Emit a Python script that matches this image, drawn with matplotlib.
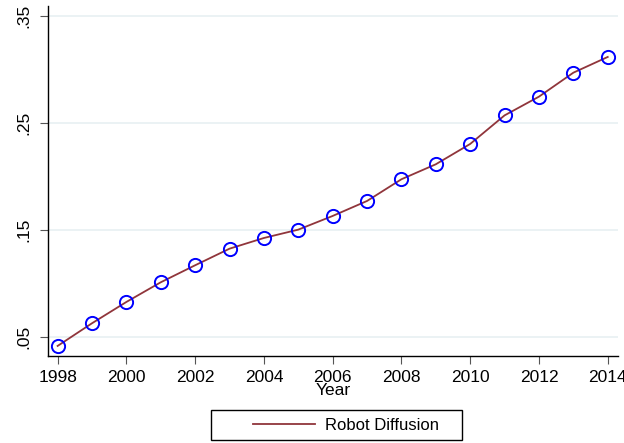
import numpy as np
import matplotlib
matplotlib.use("Agg")
import matplotlib.pyplot as plt
from matplotlib.lines import Line2D
from matplotlib.patches import Rectangle

plt.rcParams['font.family'] = ['Liberation Sans', 'DejaVu Sans']

years = [1998, 1999, 2000, 2001, 2002, 2003, 2004, 2005, 2006,
         2007, 2008, 2009, 2010, 2011, 2012, 2013, 2014]
diffusion = [0.0416, 0.0628, 0.0827, 0.1011, 0.1170, 0.1325, 0.1425, 0.1503, 0.1631,
             0.1771, 0.1974, 0.2114, 0.2304, 0.2571, 0.2746, 0.2970, 0.3117]
yticks = [0.05, 0.15, 0.25, 0.35]
ytick_labels = ['.05', '.15', '.25', '.35']
xticks = list(range(1998, 2015, 2))

W, H = 624, 443
line_col = '#90353b'
fig = plt.figure(figsize=(6.24, 4.43), dpi=100)
ax = fig.add_axes([0.0769, 0.1964, 0.913, 0.790])

ax.plot(years, diffusion, color=line_col, lw=1.3, zorder=3)
ax.plot(years, diffusion, 'o', mfc='none', mec='#0000ff', ms=9.5, mew=1.4, zorder=4)

ax.set_xlim(1997.72, 2014.29)
ax.set_ylim(0.0322, 0.3593)
ax.set_yticks(yticks)
ax.set_yticklabels(ytick_labels, rotation=90, va='center', fontsize=12.5)
ax.set_xticks(xticks)
ax.set_xticklabels([str(x) for x in xticks], fontsize=12.5)
ax.tick_params(axis='both', direction='out', length=6, width=0.8, color='#555555')
ax.tick_params(axis='x', pad=4)
ax.tick_params(axis='y', pad=6)
ax.grid(axis='y', color='#e8f0f2', lw=1.2)
ax.set_axisbelow(True)
for s in ['top', 'right']:
    ax.spines[s].set_visible(False)
for s in ['left', 'bottom']:
    ax.spines[s].set_linewidth(1.0)
ax.set_xlabel('Year', fontsize=12.5, labelpad=-1)

# legend (line key only), box drawn separately to get stata-like padding
handle = Line2D([], [], color=line_col, lw=1.3)
leg = fig.legend([handle], ['Robot Diffusion'], loc='center left',
                 bbox_to_anchor=(253 / W, 1 - 425 / H), fontsize=12,
                 frameon=False, handlelength=3.72, handletextpad=0.6,
                 borderpad=0, borderaxespad=0)
fig.patches.append(Rectangle((211 / W, 1 - 440 / H), 251 / W, 30 / H,
                             transform=fig.transFigure, fill=False,
                             ec='black', lw=1.0))

fig.savefig('out.png', dpi=100)
